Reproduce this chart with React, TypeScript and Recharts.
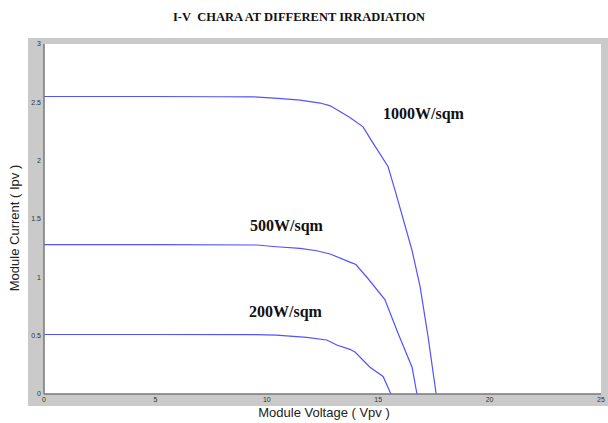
import React from "react";
import { LineChart, Line, XAxis, YAxis, CartesianGrid } from "recharts";

// ── Data (V in volts, I in amps) ─────────────────────────────────
const irr1000 = [
  { v: 0, i: 2.55 }, { v: 5, i: 2.55 }, { v: 7.9, i: 2.548 }, { v: 9.4, i: 2.547 },
  { v: 10.5, i: 2.534 }, { v: 11.5, i: 2.519 }, { v: 12.4, i: 2.494 }, { v: 12.85, i: 2.47 },
  { v: 13.3, i: 2.42 }, { v: 13.73, i: 2.37 }, { v: 14.32, i: 2.29 }, { v: 14.77, i: 2.15 },
  { v: 15.44, i: 1.95 }, { v: 15.75, i: 1.75 }, { v: 16.52, i: 1.23 }, { v: 16.88, i: 0.92 },
  { v: 17.24, i: 0.49 }, { v: 17.6, i: 0 },
];
const irr500 = [
  { v: 0, i: 1.28 }, { v: 5, i: 1.28 }, { v: 9.55, i: 1.277 }, { v: 10.44, i: 1.262 },
  { v: 11.49, i: 1.248 }, { v: 12.24, i: 1.228 }, { v: 12.84, i: 1.2 }, { v: 13.73, i: 1.13 },
  { v: 14.0, i: 1.11 }, { v: 14.54, i: 0.99 }, { v: 15.3, i: 0.81 }, { v: 15.89, i: 0.52 },
  { v: 16.52, i: 0.23 }, { v: 16.74, i: 0 },
];
const irr200 = [
  { v: 0, i: 0.51 }, { v: 5, i: 0.51 }, { v: 9.5, i: 0.509 }, { v: 10.44, i: 0.505 },
  { v: 11.79, i: 0.486 }, { v: 12.69, i: 0.463 }, { v: 13.14, i: 0.42 }, { v: 13.73, i: 0.383 },
  { v: 13.96, i: 0.36 }, { v: 14.63, i: 0.23 }, { v: 15.22, i: 0.15 }, { v: 15.57, i: 0 },
];
const xTicks = [0, 5, 10, 15, 20, 25];
const yTicks = [0, 0.5, 1, 1.5, 2, 2.5, 3];

const LINE = "#5252ff";
const tickStyle = { fontSize: 7, fill: "#333", fontFamily: "Arial, 'Liberation Sans', sans-serif" };
const labelStyle: React.CSSProperties = {
  position: "absolute",
  fontFamily: "'Liberation Serif', 'Times New Roman', serif",
  fontWeight: "bold",
  fontSize: 16,
  color: "#111",
  whiteSpace: "nowrap",
};

export default function App() {
  return (
    <div style={{ position: "fixed", left: 0, top: 0, width: 608, height: 423, background: "#fff", overflow: "hidden" }}>
      {/* matlab-ish figure background */}
      <div style={{ position: "absolute", left: 28, top: 38, width: 580, height: 368, background: "#cacaca" }} />
      <div
        style={{
          position: "absolute", left: 0, top: 10, width: 598, textAlign: "center",
          fontFamily: "'Liberation Serif', 'Times New Roman', serif", fontWeight: "bold", fontSize: 12.5, color: "#111",
        }}
      >
        I-V&nbsp; CHARA AT DIFFERENT IRRADIATION
      </div>
      <div style={{ position: "absolute", left: 0, top: 0 }}>
        <LineChart width={608} height={423} margin={{ top: 44, right: 7, left: 28, bottom: 15 }}>
          <CartesianGrid horizontal={false} vertical={false} fill="#fff" />
          <XAxis
            xAxisId="b"
            type="number"
            dataKey="v"
            domain={[0, 25]}
            ticks={xTicks}
            allowDataOverflow
            height={14}
            tick={tickStyle}
            tickSize={0}
            tickMargin={3}
            axisLine={{ stroke: "#777", strokeWidth: 1.5 }}
          />
          <XAxis xAxisId="t" orientation="top" type="number" domain={[0, 25]} height={0} tick={false} tickLine={false} axisLine={{ stroke: "#999" }} />
          <YAxis
            yAxisId="l"
            type="number"
            domain={[0, 3]}
            ticks={yTicks}
            width={16}
            tick={tickStyle}
            tickSize={0}
            tickMargin={3}
            axisLine={{ stroke: "#777", strokeWidth: 1.5 }}
          />
          <YAxis yAxisId="r" orientation="right" type="number" domain={[0, 3]} width={0} tick={false} tickLine={false} axisLine={{ stroke: "#555", strokeWidth: 2 }} />
          {[irr1000, irr500, irr200].map((d, k) => (
            <Line
              key={k}
              xAxisId="b"
              yAxisId="l"
              data={d}
              dataKey="i"
              type="linear"
              stroke={LINE}
              strokeWidth={1.2}
              dot={false}
              isAnimationActive={false}
            />
          ))}
        </LineChart>
      </div>
      <div style={{ ...labelStyle, left: 383, top: 105 }}>1000W/sqm</div>
      <div style={{ ...labelStyle, left: 250, top: 217 }}>500W/sqm</div>
      <div style={{ ...labelStyle, left: 249, top: 303 }}>200W/sqm</div>
      <div
        style={{
          position: "absolute", left: 0, top: 405, width: 648, textAlign: "center",
          fontFamily: "Arial, 'Liberation Sans', sans-serif", fontSize: 13, color: "#222",
        }}
      >
        Module Voltage ( Vpv )
      </div>
      <div
        style={{
          position: "absolute", left: 14, top: 228, transform: "translate(-50%, -50%) rotate(-90deg)",
          fontFamily: "Arial, 'Liberation Sans', sans-serif", fontSize: 13, color: "#222", whiteSpace: "nowrap",
        }}
      >
        Module Current ( Ipv )
      </div>
    </div>
  );
}
